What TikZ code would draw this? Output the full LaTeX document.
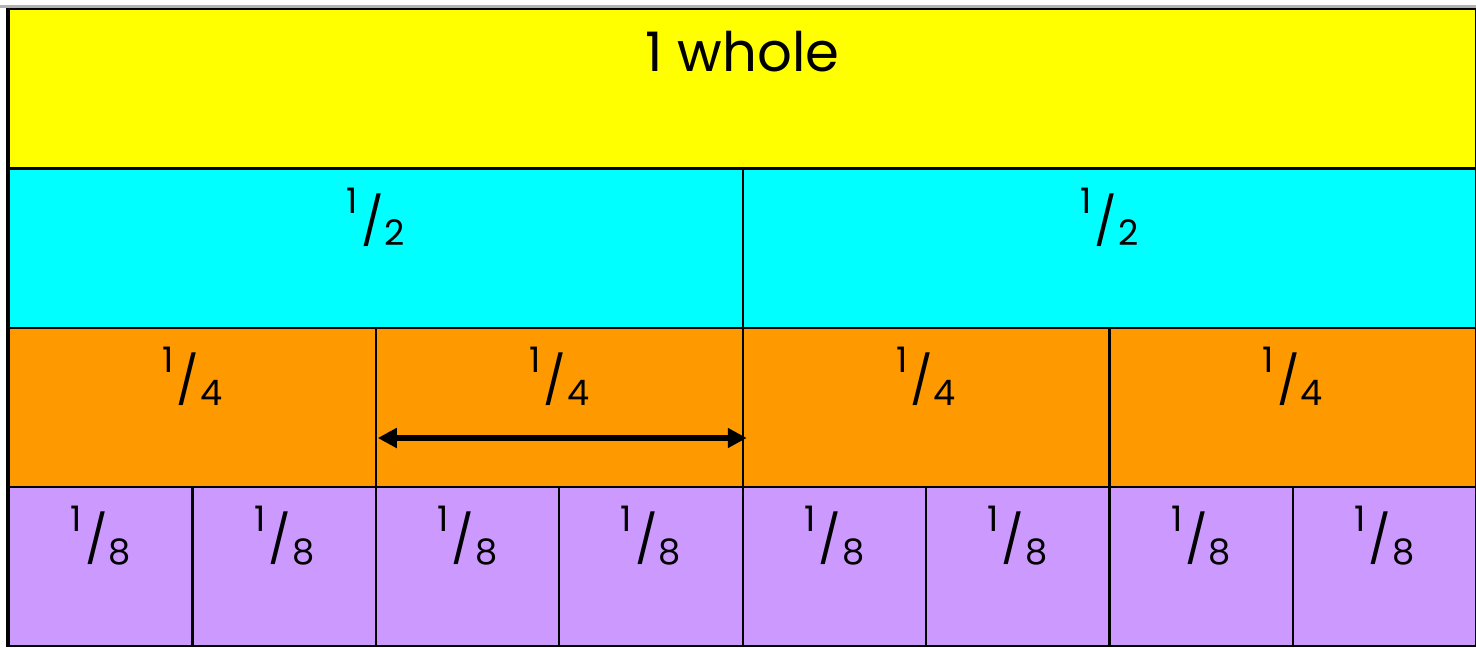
\documentclass[tikz,border=0pt]{standalone}
\usepackage{fontspec}
\setmainfont{Poppins}
\usetikzlibrary{arrows.meta,positioning}

\definecolor{wholeyellow}{HTML}{FFFF00}
\definecolor{halfcyan}{HTML}{00FFFF}
\definecolor{quartorange}{HTML}{FF9900}
\definecolor{eighthlilac}{HTML}{CC99FF}

% slanted fraction as in the strip labels
\newcommand{\frc}[2]{{\fontsize{27}{30}\selectfont\raisebox{0.5cm}{\fontsize{20}{22}\selectfont #1}\kern0.06cm/\kern0.02cm\raisebox{-0.15cm}{\fontsize{20}{22}\selectfont #2}}}

\begin{document}
\begin{tikzpicture}[
    cell/.style={draw=black, line width=0.045cm, anchor=north west, inner sep=0pt, minimum height=3.185cm},
    frac/.style={anchor=base, inner sep=0pt},
  ]
\useasboundingbox (0,0) rectangle (29.52,-12.96);
\fill[white] (0,0) rectangle (29.52,-12.96);
\draw[gray!60, line width=0.06cm] (0,-0.13) -- (29.52,-0.13);

% whole
\node[cell, fill=wholeyellow, minimum width=29.34cm] (w) at (0.16,-0.16) {};
\node[frac, font=\fontsize{31}{36}\selectfont] (wl) at ([yshift=-1.28cm]w.north) {1 whole};

% halves
\foreach \i in {0,1}{
  \node[cell, fill=halfcyan, minimum width=14.67cm] (h\i) at (0.16+\i*14.67,-3.345) {};
  \node[frac] (hl\i) at ([yshift=-1.42cm]h\i.north) {\frc{1}{2}};
}

% quarters
\foreach \i in {0,...,3}{
  \node[cell, fill=quartorange, minimum width=7.335cm] (q\i) at (0.16+\i*7.335,-6.53) {};
  \node[frac] (ql\i) at ([yshift=-1.42cm]q\i.north) {\frc{1}{4}};
}

% eighths
\foreach \i in {0,...,7}{
  \node[cell, fill=eighthlilac, minimum width=3.6675cm] (e\i) at (0.16+\i*3.6675,-9.715) {};
  \node[frac] (el\i) at ([yshift=-1.42cm]e\i.north) {\frc{1}{8}};
}

\draw[black, line width=0.07cm] (w.north west) -- (e0.south west);

% width of one quarter
\coordinate (al) at ([xshift=0.06cm, yshift=1.0cm]q1.south west);
\coordinate (ar) at ([xshift=0.06cm, yshift=1.0cm]q1.south east);
\draw[{Triangle[length=0.38cm, width=0.38cm]}-{Triangle[length=0.38cm, width=0.38cm]}, line width=0.11cm] (al) -- (ar);
\end{tikzpicture}
\end{document}
